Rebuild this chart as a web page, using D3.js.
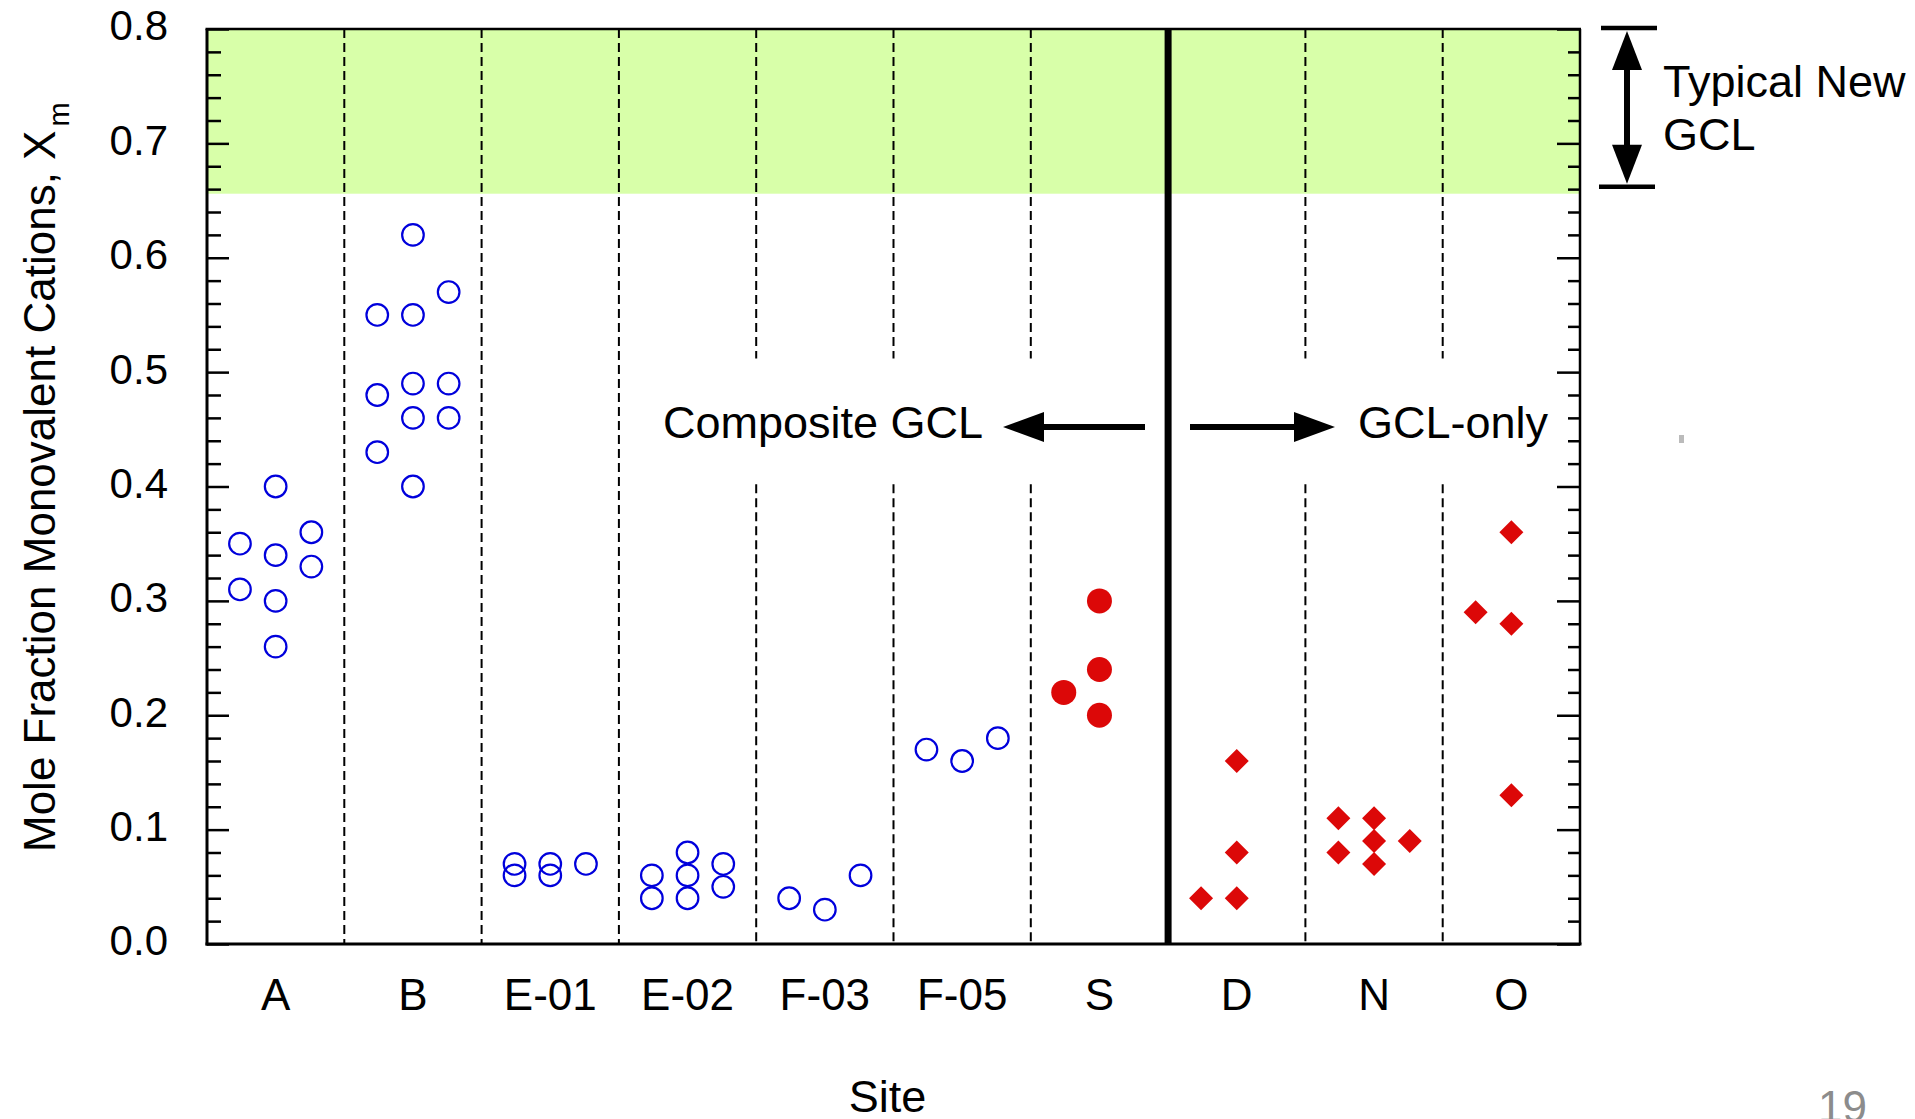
<!DOCTYPE html>
<html>
<head>
<meta charset="utf-8">
<script src="https://cdn.jsdelivr.net/npm/d3@7"></script>
<style>
  body { margin: 0; background: #fff; }
  svg { display: block; font-family: 'Liberation Sans', Arial, sans-serif; }
</style>
</head>
<body>
<div id="area"></div>
<script>
// sites along the x axis
const sites = ['A','B','E-01','E-02','F-03','F-05','S','D','N','O']
// values per site, split into left / middle / right column of the site
const colLeft  = [[0.35,0.31],[0.55,0.48,0.43],[0.07,0.06],[0.06,0.04],[0.04],[0.17],[0.22],[0.04],[0.11,0.08],[0.29]]
const colMid   = [[0.40,0.34,0.30,0.26],[0.62,0.55,0.49,0.46,0.40],[0.07,0.06],[0.08,0.06,0.04],[0.03],[0.16],[0.30,0.24,0.20],[0.16,0.08,0.04],[0.11,0.09,0.07],[0.36,0.28,0.13]]
const colRight = [[0.36,0.33],[0.57,0.49,0.46],[0.07],[0.07,0.05],[0.06],[0.18],[],[],[0.09],[]]
// marker kind per site
const kind = ['open','open','open','open','open','open','dot','diamond','diamond','diamond']
const yTicks = [0,0.1,0.2,0.3,0.4,0.5,0.6,0.7,0.8]
const newGclLow = 0.656
const dividerSite = 'D'
const brokenAt = ['F-03','F-05','S','N','O']

const W = 1915, H = 1119
const m = {left: 207, right: 1580, top: 29, bottom: 944}
const blue = '#0000dc', red = '#dc0808'

const svg = d3.select('#area').append('svg')
  .attr('width', W).attr('height', H)

const x = d3.scaleBand().domain(sites).range([m.left, m.right]).paddingInner(0).paddingOuter(0)
const y = d3.scaleLinear().domain([0,0.8]).range([m.bottom, m.top])
const bw = x.bandwidth()

// green band for typical new GCL
svg.append('rect')
  .attr('x', m.left).attr('y', y(0.8))
  .attr('width', m.right - m.left).attr('height', y(newGclLow) - y(0.8))
  .attr('fill', '#d8ffa9')

// dashed separators
const gapTop = y(0.512), gapBot = y(0.402)
sites.slice(1).forEach(s => {
  const xx = x(s)
  if (s === dividerSite) {
    svg.append('line').attr('x1', xx).attr('x2', xx).attr('y1', m.top).attr('y2', m.bottom)
      .attr('stroke', '#000').attr('stroke-width', 7)
    return
  }
  const segs = brokenAt.includes(s) ? [[m.top, gapTop], [gapBot, m.bottom]] : [[m.top, m.bottom]]
  segs.forEach(sg => {
    svg.append('line').attr('x1', xx).attr('x2', xx).attr('y1', sg[0]).attr('y2', sg[1])
      .attr('stroke', '#000').attr('stroke-width', 2).attr('stroke-dasharray', '9,5')
  })
})

// flatten points
const pts = []
sites.forEach((s, i) => {
  colLeft[i].forEach(v => pts.push({site: s, slot: -1, v: v, kind: kind[i]}))
  colMid[i].forEach(v => pts.push({site: s, slot: 0, v: v, kind: kind[i]}))
  colRight[i].forEach(v => pts.push({site: s, slot: 1, v: v, kind: kind[i]}))
})
const px = d => x(d.site) + bw * (0.5 + d.slot * 0.26)

svg.selectAll('circle.open')
  .data(pts.filter(d => d.kind === 'open'))
  .enter().append('circle')
  .attr('class', 'open')
  .attr('cx', px).attr('cy', d => y(d.v))
  .attr('r', 10.8)
  .attr('fill', 'none').attr('stroke', blue).attr('stroke-width', 2.2)

svg.selectAll('circle.dot')
  .data(pts.filter(d => d.kind === 'dot'))
  .enter().append('circle')
  .attr('class', 'dot')
  .attr('cx', px).attr('cy', d => y(d.v))
  .attr('r', 12.5)
  .attr('fill', red)

svg.selectAll('path.diamond')
  .data(pts.filter(d => d.kind === 'diamond'))
  .enter().append('path')
  .attr('class', 'diamond')
  .attr('d', d => {
    const cx = px(d), cy = y(d.v), r = 12
    return `M${cx},${cy - r}L${cx + r},${cy}L${cx},${cy + r}L${cx - r},${cy}Z`
  })
  .attr('fill', red)

// axes
const minor = d3.range(0, 0.801, 0.02).filter(v => Math.abs(v * 10 - Math.round(v * 10)) > 1e-6)

svg.append('g')
  .attr('transform', `translate(${m.left},0)`)
  .call(d3.axisLeft(y).tickValues(yTicks).tickSize(-22).tickPadding(39).tickFormat(d3.format('.1f')))
  .call(g => g.select('.domain').remove())
  .call(g => g.selectAll('line').attr('stroke-width', 2.5))
  .call(g => g.selectAll('text').attr('font-size', 42).attr('fill', '#000').attr('dy', '0.26em')
    .attr('font-family', "'Liberation Sans', Arial, sans-serif"))

svg.append('g')
  .attr('transform', `translate(${m.left},0)`)
  .call(d3.axisLeft(y).tickValues(minor).tickSize(-14).tickFormat(''))
  .call(g => g.select('.domain').remove())
  .call(g => g.selectAll('line').attr('stroke-width', 2.5))

svg.append('g')
  .attr('transform', `translate(${m.right},0)`)
  .call(d3.axisRight(y).tickValues(yTicks).tickSize(-23).tickFormat(''))
  .call(g => g.select('.domain').remove())
  .call(g => g.selectAll('line').attr('stroke-width', 2.5))

svg.append('g')
  .attr('transform', `translate(${m.right},0)`)
  .call(d3.axisRight(y).tickValues(minor).tickSize(-12).tickFormat(''))
  .call(g => g.select('.domain').remove())
  .call(g => g.selectAll('line').attr('stroke-width', 2.5))

svg.append('g')
  .attr('transform', `translate(0,${m.bottom})`)
  .call(d3.axisBottom(x).tickSize(0).tickPadding(35))
  .call(g => g.select('.domain').remove())
  .call(g => g.selectAll('text').attr('font-size', 44).attr('fill', '#000').attr('dy', '0.71em')
    .attr('font-family', "'Liberation Sans', Arial, sans-serif"))

// frame
const frame = [
  [m.left, m.top, m.left, m.bottom + 1.5, 3],
  [m.left - 1.5, m.bottom, m.right + 1.5, m.bottom, 3],
  [m.left - 1.5, m.top, m.right + 1, m.top, 2.5],
  [m.right, m.top, m.right, m.bottom, 2.5]
]
frame.forEach(f => {
  svg.append('line').attr('x1', f[0]).attr('y1', f[1]).attr('x2', f[2]).attr('y2', f[3])
    .attr('stroke', '#000').attr('stroke-width', f[4])
})

// axis titles
const yt = svg.append('text')
  .attr('transform', 'translate(55,852) rotate(-90)')
  .attr('font-size', 44)
  .attr('fill', '#000')
yt.append('tspan').text('Mole Fraction Monovalent Cations, X')
yt.append('tspan').attr('font-size', 29).attr('dy', 14).attr('dx', 4).text('m')

svg.append('text')
  .attr('x', (m.left + m.right) / 2 - 6).attr('y', 1112)
  .attr('text-anchor', 'middle')
  .attr('font-size', 45)
  .text('Site')

// annotations
const arrowY = 427
svg.append('text').attr('x', 663).attr('y', 438).attr('font-size', 45).text('Composite GCL')
svg.append('text').attr('x', 1358).attr('y', 438).attr('font-size', 45).text('GCL-only')

svg.append('line').attr('x1', 1040).attr('x2', 1145).attr('y1', arrowY).attr('y2', arrowY)
  .attr('stroke', '#000').attr('stroke-width', 6)
svg.append('path').attr('d', `M1003,${arrowY}L1044,${arrowY - 15}L1044,${arrowY + 15}Z`).attr('fill', '#000')

svg.append('line').attr('x1', 1190).attr('x2', 1297).attr('y1', arrowY).attr('y2', arrowY)
  .attr('stroke', '#000').attr('stroke-width', 6)
svg.append('path').attr('d', `M1335,${arrowY}L1294,${arrowY - 15}L1294,${arrowY + 15}Z`).attr('fill', '#000')

// bracket for typical new GCL
const bTop = y(0.8) - 1, bBot = y(0.662), bx = 1627
svg.append('line').attr('x1', 1601).attr('x2', 1657).attr('y1', bTop).attr('y2', bTop)
  .attr('stroke', '#000').attr('stroke-width', 4.5)
svg.append('line').attr('x1', 1599).attr('x2', 1655).attr('y1', bBot).attr('y2', bBot)
  .attr('stroke', '#000').attr('stroke-width', 4.5)
svg.append('line').attr('x1', bx).attr('x2', bx).attr('y1', bTop + 35).attr('y2', bBot - 35)
  .attr('stroke', '#000').attr('stroke-width', 6)
svg.append('path').attr('d', `M${bx},${bTop + 3}L${bx + 15},${bTop + 42}L${bx - 15},${bTop + 42}Z`).attr('fill', '#000')
svg.append('path').attr('d', `M${bx},${bBot - 3}L${bx + 15},${bBot - 42}L${bx - 15},${bBot - 42}Z`).attr('fill', '#000')

svg.append('text').attr('x', 1663).attr('y', 97).attr('font-size', 45).text('Typical New')
svg.append('text').attr('x', 1663).attr('y', 150).attr('font-size', 45).text('GCL')

// stray mark and page number
svg.append('rect').attr('x', 1679).attr('y', 435).attr('width', 5).attr('height', 8).attr('fill', '#bbb')
svg.append('text').attr('x', 1818).attr('y', 1122).attr('font-size', 44).attr('fill', '#8c8c8c').text('19')
</script>
</body>
</html>
